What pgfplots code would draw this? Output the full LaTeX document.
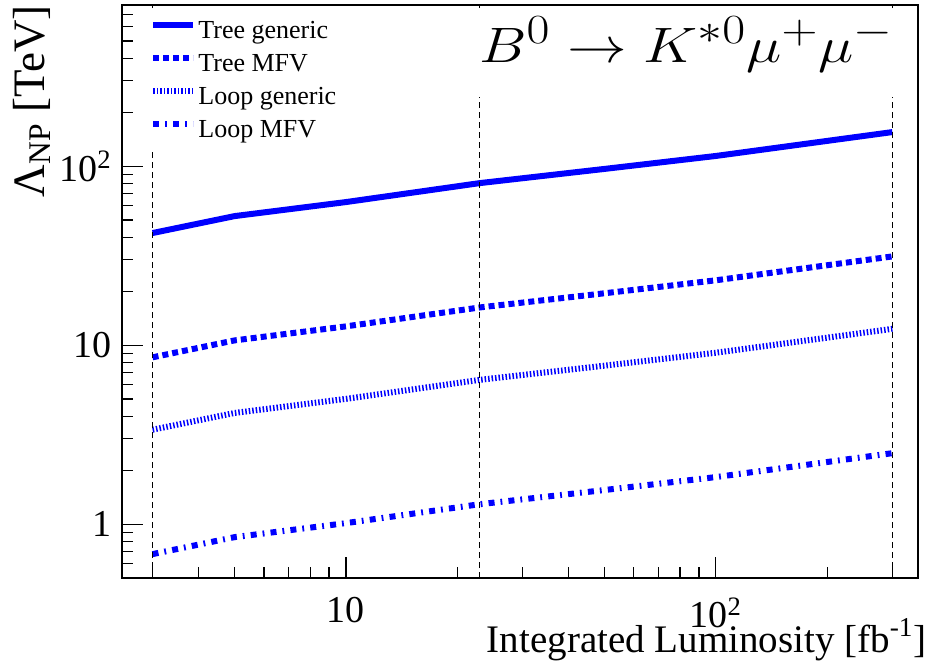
\documentclass[border=0pt]{standalone}
\usepackage{fontspec}
\setmainfont{Liberation Serif}
\usepackage{graphicx}
\usepackage{pgfplots}
\pgfplotsset{compat=1.18}
\begin{document}
\begin{tikzpicture}
\useasboundingbox (-61pt,-41.5pt) rectangle (402pt,289pt);
\begin{axis}[
 at={(0pt,0pt)}, anchor=south west,
 scale only axis, width=398pt, height=286.5pt,
 xmode=log, ymode=log,
 xmin=2.48, xmax=352, ymin=0.5, ymax=795,
 axis line style={line width=1pt},
 tick align=inside, xtick pos=bottom, ytick pos=left,
 major tick length=10.5pt, minor tick length=5.3pt,
 every tick/.style={black, line width=0.6pt},
 xtick={10,100}, xticklabels={10,10\textsuperscript{2}},
 minor xtick={3,4,5,6,7,8,9,20,30,40,50,60,70,80,90,200,300},
 ytick={1,10,100}, yticklabels={1,10,10\textsuperscript{2}},
 minor ytick={0.6,0.7,0.8,0.9,2,3,4,5,6,7,8,9,20,30,40,50,60,70,80,90,200,300,400,500,600,700},
 ticklabel style={font=\fontsize{19}{22}\selectfont, inner sep=0pt},
 xticklabel style={yshift=-9.5pt},
 yticklabel style={xshift=-5pt},
 xlabel={Integrated Luminosity [fb\textsuperscript{-1}]},
 xlabel style={at={(axis description cs:1,0)}, anchor=base east, yshift=-37pt, xshift=4.5pt, inner sep=0pt, font=\fontsize{19.5}{23}\selectfont},
 ylabel={Λ\textsubscript{NP} [TeV]},
 ylabel style={at={(axis description cs:-0.113,1)}, anchor=east, inner sep=0pt, font=\fontsize{22.5}{26}\selectfont},
 legend style={at={(axis description cs:0.0289,0.9878)}, anchor=north west, draw=none, fill=white, inner xsep=2.5pt, inner ysep=3pt, font=\fontsize{13}{15}\selectfont, row sep=2.5pt, nodes={inner sep=1pt, text height=9pt, text depth=3pt}, /tikz/every even column/.append style={column sep=6pt}},
 legend cell align=left,
 legend image code/.code={\draw[#1] (0pt,3.5pt) -- (20pt,3.5pt);},
]
\addplot[blue, line width=3pt] coordinates {(3,42.3) (5,52.6) (10,63) (23,80.4) (50,96.5) (100,114) (300,155)};
\addlegendentry{Tree generic}
\addplot[blue, line width=3pt, dash pattern=on 3pt off 2pt] coordinates {(3,8.55) (5,10.63) (10,12.73) (23,16.24) (50,19.49) (100,23.03) (300,31.31)};
\addlegendentry{Tree MFV}
\addplot[blue, line width=3pt, dash pattern=on 0.75pt off 1pt] coordinates {(3,3.37) (5,4.18) (10,5.01) (23,6.40) (50,7.68) (100,9.07) (300,12.33)};
\addlegendentry{Loop generic}
\addplot[blue, line width=3pt, dash pattern=on 3pt off 3pt on 0.9pt off 3.1pt] coordinates {(3,0.680) (5,0.846) (10,1.013) (23,1.292) (50,1.551) (100,1.832) (300,2.491)};
\addlegendentry{Loop MFV}
\addplot[black, line width=0.5pt, dash pattern=on 3pt off 2pt, forget plot] coordinates {(3,0.5) (3,795)};
\addplot[black, line width=0.5pt, dash pattern=on 3pt off 2pt, forget plot] coordinates {(23,0.5) (23,795)};
\addplot[black, line width=0.5pt, dash pattern=on 3pt off 2pt, forget plot] coordinates {(300,0.5) (300,795)};
\node[fill=white, inner xsep=4pt, inner ysep=0pt, text height=25pt, text depth=17.5pt, anchor=base, font=\fontsize{28.5}{32}\selectfont] at (axis description cs:0.709,0.9005) {\scalebox{1.2}[1]{$B^0\to K^{*0}\mu^+\mu^-$}};
\end{axis}
\end{tikzpicture}
\end{document}
